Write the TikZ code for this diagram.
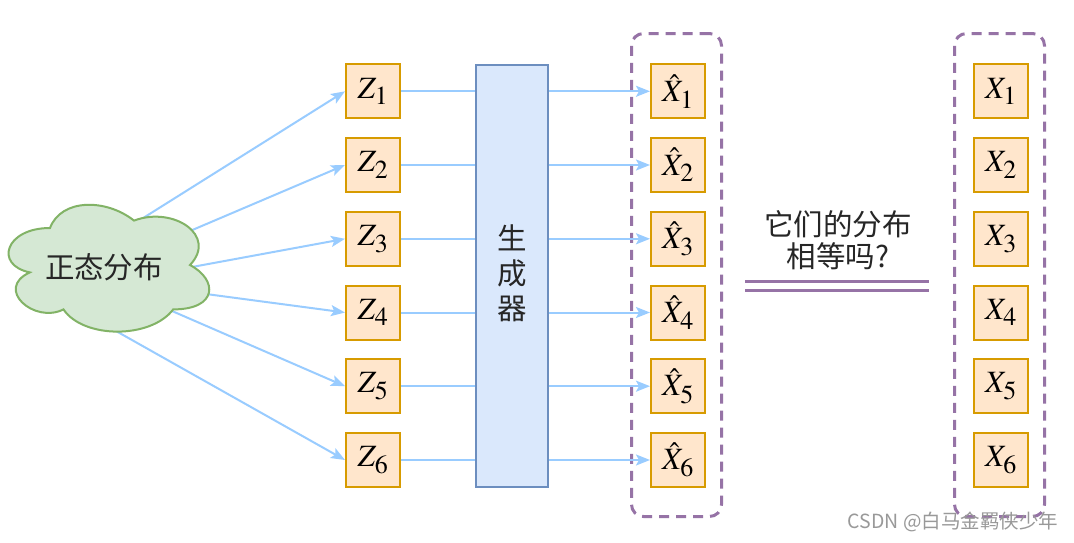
\documentclass[tikz,border=0pt]{standalone}
\usepackage{mathptmx}
\usepackage[no-math]{fontspec}
\newfontfamily\cjk{Noto Sans CJK SC}
\usetikzlibrary{arrows.meta}
\DeclareMathSizes{31}{31}{26}{20}
\definecolor{zfill}{HTML}{FFE6CC}
\definecolor{zdraw}{HTML}{D79B00}
\definecolor{gfill}{HTML}{DAE8FC}
\definecolor{gdraw}{HTML}{6C8EBF}
\definecolor{cfill}{HTML}{D5E8D4}
\definecolor{cdraw}{HTML}{82B366}
\definecolor{purp}{HTML}{9673A6}
\definecolor{arr}{HTML}{99CCFF}
\begin{document}
\begin{tikzpicture}[x=1pt,y=-1pt,
  vbox/.style={draw=zdraw,fill=zfill,line width=2pt,minimum size=54pt,inner sep=0pt,font=\fontsize{31}{36}\selectfont},
  genbox/.style={draw=gdraw,fill=gfill,line width=2pt,minimum width=72pt,minimum height=422pt,inner sep=0pt},
  grp/.style={draw=purp,line width=3pt,rounded corners=12pt,dash pattern=on 10pt off 7pt,minimum width=90pt,minimum height=483pt,inner sep=0pt},
  conn/.style={draw=arr,line width=2pt},
  arrc/.style={draw=arr,line width=2pt,-{Stealth[length=14pt,width=11pt,inset=3pt,fill=arr]}},
  cjktext/.style={font=\cjk\fontsize{29.5}{31.5}\selectfont,text=black!85,inner sep=0pt,align=center},
]
\useasboundingbox (0,0) rectangle (1074,542);
\fill[white] (0,0) rectangle (1074,542);

% groups
\node[grp] (g1) at (676.5,275) {};
\node[grp] (g2) at (999.5,275) {};

% generator
\node[genbox] (gen) at (512,276) {};
\node[cjktext,font=\cjk\fontsize{29.5}{35}\selectfont] (genlabel) at (512,273) {生\\成\\器};

% boxes
\foreach \i/\y in {1/91.3,2/165,3/238.8,4/312.5,5/386.2,6/460}{
  \node[vbox] (z\i) at (373,\y) {$Z_{\i}$};
  \node[vbox] (xh\i) at (678,\y) {$\hat{X}_{\i}$};
  \node[vbox] (x\i) at (1001,\y) {$X_{\i}$};
  \draw[conn] (z\i.east) -- (z\i.east -| gen.west);
  \draw[arrc] (gen.east |- xh\i.west) -- (xh\i.west);
}

% cloud connectors (drawn under the cloud)
\coordinate (c1) at (140,220);
\coordinate (c2) at (190,231);
\coordinate (c3) at (192,267);
\coordinate (c4) at (206,294);
\coordinate (c5) at (172,311);
\coordinate (c6) at (116,331);
\foreach \i in {1,...,6}{
  \draw[arrc] (c\i) -- (z\i.west);
}

% cloud
\draw[draw=cdraw,fill=cfill,line width=2pt]
  (50,228) .. controls (5.2,228) and (-6,265) .. (29.84,272.4)
  .. controls (-6,288.68) and (34.32,324.2) .. (63.44,309.4)
  .. controls (83.6,339) and (150.8,339) .. (173.2,309.4)
  .. controls (218,309.4) and (218,279.8) .. (190,265)
  .. controls (218,235.4) and (173.2,205.8) .. (134,220.6)
  .. controls (106,198.4) and (61.2,198.4) .. (50,228) -- cycle;
\node[cjktext] (cloud) at (104,267) {正态分布};

% question
\node[cjktext] (question) at (838,240) {它们的分布\\相等吗?};
\coordinate (eqa) at (745,281);
\coordinate (eqb) at (929,281);
\coordinate (eqc) at (745,290);
\coordinate (eqd) at (929,290);
\draw[purp,line width=3pt] (eqa) -- (eqb);
\draw[purp,line width=3pt] (eqc) -- (eqd);

% watermark
\node[font=\cjk\fontsize{19.5}{21}\selectfont,text=black!40,inner sep=0pt] (wm) at (953,522) {CSDN @白马金羁侠少年};
\end{tikzpicture}
\end{document}
